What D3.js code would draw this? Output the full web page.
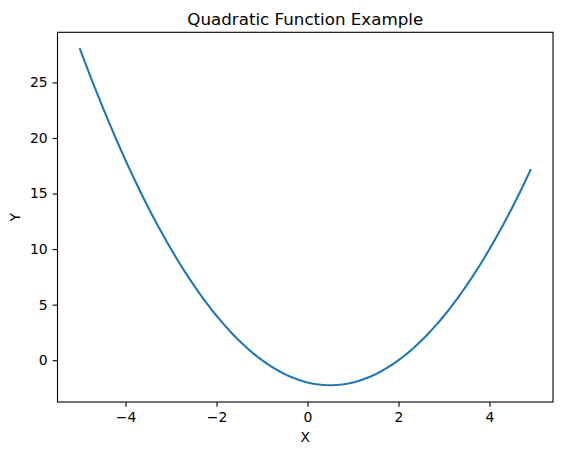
<!DOCTYPE html>
<html>
<head>
<meta charset="utf-8">
<script src="https://cdn.jsdelivr.net/npm/d3@7"></script>
<style>
  html, body { margin: 0; padding: 0; background: #fff; }
  svg text { font-family: "DejaVu Sans", sans-serif; fill: #000; }
</style>
</head>
<body>
<svg id="chart" width="562" height="455"></svg>
<script>
const xValues = [
  -5.0, -4.9, -4.8, -4.7, -4.6, -4.5, -4.4, -4.3, -4.2, -4.1,
  -4.0, -3.9, -3.8, -3.7, -3.6, -3.5, -3.4, -3.3, -3.2, -3.1,
  -3.0, -2.9, -2.8, -2.7, -2.6, -2.5, -2.4, -2.3, -2.2, -2.1,
  -2.0, -1.9, -1.8, -1.7, -1.6, -1.5, -1.4, -1.3, -1.2, -1.1,
  -1.0, -0.9, -0.8, -0.7, -0.6, -0.5, -0.4, -0.3, -0.2, -0.1,
  0.0, 0.1, 0.2, 0.3, 0.4, 0.5, 0.6, 0.7, 0.8, 0.9,
  1.0, 1.1, 1.2, 1.3, 1.4, 1.5, 1.6, 1.7, 1.8, 1.9,
  2.0, 2.1, 2.2, 2.3, 2.4, 2.5, 2.6, 2.7, 2.8, 2.9,
  3.0, 3.1, 3.2, 3.3, 3.4, 3.5, 3.6, 3.7, 3.8, 3.9,
  4.0, 4.1, 4.2, 4.3, 4.4, 4.5, 4.6, 4.7, 4.8, 4.9
];
const yValues = [
  28, 26.91, 25.84, 24.79, 23.76, 22.75, 21.76, 20.79, 19.84, 18.91,
  18, 17.11, 16.24, 15.39, 14.56, 13.75, 12.96, 12.19, 11.44, 10.71,
  10, 9.31, 8.64, 7.99, 7.36, 6.75, 6.16, 5.59, 5.04, 4.51,
  4, 3.51, 3.04, 2.59, 2.16, 1.75, 1.36, 0.99, 0.64, 0.31,
  0, -0.29, -0.56, -0.81, -1.04, -1.25, -1.44, -1.61, -1.76, -1.89,
  -2, -2.09, -2.16, -2.21, -2.24, -2.25, -2.24, -2.21, -2.16, -2.09,
  -2, -1.89, -1.76, -1.61, -1.44, -1.25, -1.04, -0.81, -0.56, -0.29,
  0, 0.31, 0.64, 0.99, 1.36, 1.75, 2.16, 2.59, 3.04, 3.51,
  4, 4.51, 5.04, 5.59, 6.16, 6.75, 7.36, 7.99, 8.64, 9.31,
  10, 10.71, 11.44, 12.19, 12.96, 13.75, 14.56, 15.39, 16.24, 17.11
];
const xTicks = [-4, -2, 0, 2, 4];
const yTicks = [0, 5, 10, 15, 20, 25];
const titleText = 'Quadratic Function Example';
const xLabel = 'X';
const yLabel = 'Y';

// Plot box, in pixels
const box = { left: 57.5, top: 32.3, right: 553, bottom: 402 };

const svg = d3.select('#chart');

// Same 5% padding on each side as the source
const xExt = d3.extent(xValues);
const yExt = d3.extent(yValues);
const xPad = (xExt[1] - xExt[0]) * 0.05;
const yPad = (yExt[1] - yExt[0]) * 0.05;

const x = d3.scaleLinear()
  .domain([xExt[0] - xPad, xExt[1] + xPad])
  .range([box.left, box.right]);
const y = d3.scaleLinear()
  .domain([yExt[0] - yPad, yExt[1] + yPad])
  .range([box.bottom, box.top]);

const points = xValues.map((v, i) => [v, yValues[i]]);

// Curve
svg.append('path')
  .datum(points)
  .attr('fill', 'none')
  .attr('stroke', '#1f77b4')
  .attr('stroke-width', 2.08)
  .attr('stroke-linejoin', 'round')
  .attr('stroke-linecap', 'square')
  .attr('d', d3.line().x(d => x(d[0])).y(d => y(d[1])));

// Axes
const fmt = d => (d < 0 ? '\u2212' + Math.abs(d) : String(d));

const xAxis = svg.append('g')
  .attr('transform', `translate(0,${box.bottom})`)
  .call(d3.axisBottom(x).tickValues(xTicks).tickSize(4.86).tickPadding(5.5).tickFormat(fmt));

const yAxis = svg.append('g')
  .attr('transform', `translate(${box.left},0)`)
  .call(d3.axisLeft(y).tickValues(yTicks).tickSize(4.86).tickPadding(5).tickFormat(fmt));

[xAxis, yAxis].forEach((g) => {
  g.select('.domain').remove();
  g.selectAll('.tick line').attr('stroke', '#000').attr('stroke-width', 1.1);
  g.selectAll('.tick text')
    .attr('font-family', 'DejaVu Sans, sans-serif')
    .attr('font-size', '13.9px')
    .attr('fill', '#000');
});

// Frame
svg.append('rect')
  .attr('x', box.left)
  .attr('y', box.top)
  .attr('width', box.right - box.left)
  .attr('height', box.bottom - box.top)
  .attr('fill', 'none')
  .attr('stroke', '#000')
  .attr('stroke-width', 1.1);

// Title and labels
const midX = (box.left + box.right) / 2;
const midY = (box.top + box.bottom) / 2;

svg.append('text')
  .attr('x', midX)
  .attr('y', 24.5)
  .attr('text-anchor', 'middle')
  .attr('font-size', '16.7px')
  .text(titleText);

svg.append('text')
  .attr('x', midX)
  .attr('y', 441.7)
  .attr('text-anchor', 'middle')
  .attr('font-size', '13.9px')
  .text(xLabel);

svg.append('text')
  .attr('transform', `translate(20.3,${midY}) rotate(-90)`)
  .attr('text-anchor', 'middle')
  .attr('font-size', '13.9px')
  .text(yLabel);
</script>
</body>
</html>
